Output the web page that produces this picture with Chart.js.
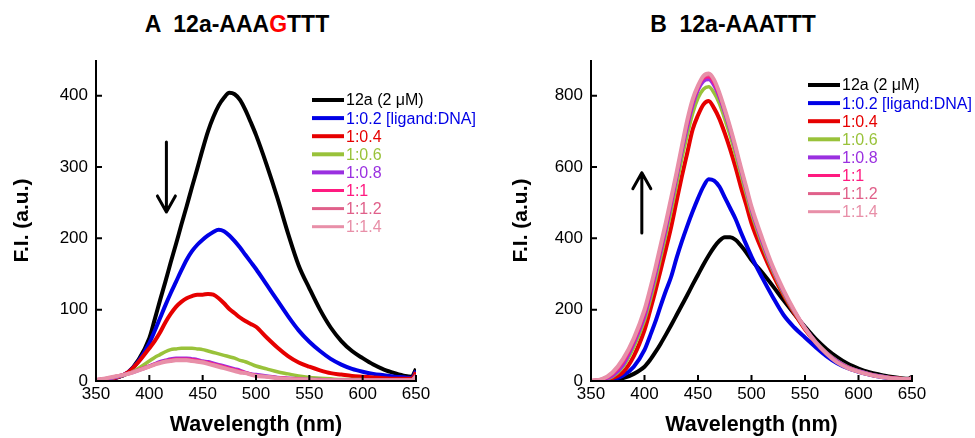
<!DOCTYPE html>
<html><head><meta charset="utf-8">
<script src="https://cdn.jsdelivr.net/npm/chart.js@4.4.0/dist/chart.umd.min.js"></script>
<style>
html,body{margin:0;padding:0;background:#fff;}
body{width:975px;height:438px;position:relative;overflow:hidden;font-family:"Liberation Sans",Arial,sans-serif;}
.title{position:absolute;top:10px;font-weight:bold;font-size:23px;text-align:center;white-space:pre;color:#000;line-height:28px;}
canvas{position:absolute;top:0;}
</style></head><body>
<div class="title" style="left:0;width:474px">A  12a-AAA<span style="color:#f00">G</span>TTT</div>
<div class="title" style="left:487px;width:492px">B  12a-AAATTT</div>
<canvas id="cA" width="487" height="438" style="left:0"></canvas>
<canvas id="cB" width="488" height="438" style="left:487px"></canvas>
<script>
// ---- data ----
const wavelengths = [350,360,370,380,390,400,405,410,415,420,425,430,435,440,445,450,455,460,465,470,475,480,485,490,495,500,510,520,530,540,550,560,570,580,590,600,610,620,630,640,646,650];
const seriesLabels = ['12a (2 \u03bcM)','1:0.2 [ligand:DNA]','1:0.4','1:0.6','1:0.8','1:1','1:1.2','1:1.4'];
const xTicks = [350,400,450,500,550,600,650];
const yTicksA = [0,100,200,300,400];
const yTicksB = [0,200,400,600,800];
const xTitle = 'Wavelength (nm)';
const yTitle = 'F.I. (a.u.)';

// Panel A: 12a-AAAGTTT
const a_12a  = [1,2,5,12,30,60,86,113,139,166,192,219,245,272,298,325,350,370,386,397,404,402,394,380,363,345,303,257,207,162,130,100,75,56,42,32,23,16,11,7,6,17];
const a_r02  = [1,2,5,12,28,53,70,88,106,123,139,155,170,182,191,198,204,209,212,210,204,196,187,177,167,157,135,113,91,71,55,42,31,23,17,13,10,8,6,5,4,14];
const a_r04  = [1,2,5,12,27,46,56,68,82,94,104,111,116,119,121,121,122,121,116,109,101,95,89,84,80,76,61,47,35,26,20,15,11,9,7,6,5,4,3,3,3,12];
const a_r06  = [1,3,6,10,18,28,33,37,41,44,45,46,46,46,45,44,42,40,38,36,34,32,29,27,24,21,17,13,10,7,5,4,3,2,2,2,1,1,1,1,1,8];
const a_r08  = [1,3,6,10,15,21,24,27,29,31,32,32,32,31,30,28,27,25,23,21,19,17,15,12,10,9,7,5,4,3,2,2,1,1,1,1,1,1,1,1,1,8];
const a_r10  = [2,4,7,11,16,21,24,26,28,30,31,31,31,30,29,27,26,24,22,20,18,16,14,12,10,8,6,5,4,3,2,2,1,1,1,1,1,1,1,1,1,7];
const a_r12  = [2,4,7,11,15,20,23,26,28,29,30,30,30,29,28,27,25,23,21,19,17,15,13,11,9,8,6,5,3,3,2,1,1,1,1,1,1,1,1,1,1,7];
const a_r14  = [2,4,7,10,15,20,23,25,27,28,29,29,29,28,27,26,24,22,20,18,16,14,12,11,9,7,6,4,3,2,2,1,1,1,1,1,1,1,1,1,1,6];

// Panel B: 12a-AAATTT
const b_12a  = [0,1,3,8,20,40,58,80,104,130,157,185,213,241,270,298,326,352,375,393,403,403,396,380,361,339,304,266,226,188,152,118,90,67,48,35,25,18,12,8,6,12];
const b_r02  = [0,1,4,15,40,87,125,165,210,253,293,345,392,435,475,512,545,566,562,545,515,485,455,418,383,349,290,235,185,150,122,95,70,50,36,26,18,12,8,5,4,8];
const b_r04  = [0,2,8,25,70,143,195,250,310,370,433,505,575,640,705,745,775,785,765,735,695,650,600,545,495,442,365,298,240,190,145,108,78,55,38,27,19,13,9,6,5,8];
const b_r06  = [0,3,12,40,95,170,222,280,345,410,478,550,625,690,750,793,818,825,808,778,735,688,635,580,525,470,382,308,245,193,148,110,80,57,40,28,20,14,9,6,5,8];
const b_r08  = [0,4,14,45,105,180,235,295,360,425,495,570,645,712,772,815,840,845,828,795,752,703,650,593,537,480,390,313,249,195,149,110,79,56,39,28,20,14,9,6,5,8];
const b_r10  = [1,4,18,52,110,188,243,303,368,433,503,577,652,720,780,822,848,852,835,800,757,708,654,597,541,484,394,316,251,196,149,109,78,54,38,27,19,13,9,6,5,8];
const b_r12  = [1,5,21,57,115,194,249,309,374,439,509,581,656,726,785,825,852,858,841,805,760,710,656,598,543,486,397,318,253,197,148,108,77,53,37,26,18,12,8,6,5,8];
const b_r14  = [1,5,24,62,120,200,255,315,380,445,515,585,660,732,790,828,855,862,845,808,762,712,658,600,545,489,400,320,255,198,148,108,77,52,36,26,18,12,8,6,5,8];

// ---- styles ----
const colors = ['#000000','#0000e6','#e60000','#99c23a','#9a30e0','#ff1a80','#e0608a','#e88fa8'];
const lineWidths = [4,4,4,3.5,3.5,3,3,4];
const legendWidths = [4,4,4,4,4,3,3,3];
const FAM = '"Liberation Sans", Arial, sans-serif';

const overlay = {
  id: 'overlay',
  afterDraw(chart, args, o) {
    const ctx = chart.ctx, ca = chart.chartArea;
    const xs = chart.scales.x, ys = chart.scales.y;
    ctx.save();
    // axes
    ctx.strokeStyle = '#000'; ctx.lineWidth = 2;
    ctx.beginPath();
    ctx.moveTo(ca.left, ca.top); ctx.lineTo(ca.left, ca.bottom + 1);
    ctx.moveTo(ca.left - 1, ca.bottom); ctx.lineTo(ca.right + 1, ca.bottom);
    ctx.stroke();
    // inward ticks
    ctx.beginPath();
    xTicks.forEach(v => { const px = xs.getPixelForValue(v); ctx.moveTo(px, ca.bottom); ctx.lineTo(px, ca.bottom - 6); });
    o.yTicks.forEach(v => { const py = ys.getPixelForValue(v); ctx.moveTo(ca.left, py); ctx.lineTo(ca.left + 6, py); });
    ctx.stroke();
    // arrow
    const ax = xs.getPixelForValue(o.arrow.x);
    const y1 = ys.getPixelForValue(o.arrow.from), y2 = ys.getPixelForValue(o.arrow.to);
    const dir = y2 > y1 ? 1 : -1;
    ctx.lineWidth = 3; ctx.lineCap = 'round'; ctx.lineJoin = 'round';
    ctx.beginPath();
    ctx.moveTo(ax, y1); ctx.lineTo(ax, y2);
    ctx.moveTo(ax - 9, y2 - dir * 16); ctx.lineTo(ax, y2); ctx.lineTo(ax + 9, y2 - dir * 16);
    ctx.stroke();
    // x-axis title
    ctx.fillStyle = '#000';
    ctx.font = 'bold 21.5px ' + FAM;
    ctx.textAlign = 'center'; ctx.textBaseline = 'alphabetic';
    ctx.fillText(xTitle, (ca.left + ca.right) / 2, 431);
    // legend
    ctx.lineCap = 'butt';
    ctx.font = '16px ' + FAM;
    ctx.textBaseline = 'middle';
    ctx.textAlign = 'left';
    chart.data.datasets.forEach((ds, i) => {
      const y = o.legendY + i * 18.1;
      ctx.strokeStyle = colors[i]; ctx.lineWidth = legendWidths[i];
      ctx.beginPath(); ctx.moveTo(o.legendX, y); ctx.lineTo(o.legendX + 32, y); ctx.stroke();
      ctx.fillStyle = colors[i];
      ctx.fillText(ds.label, o.legendX + 34, y + 1);
    });
    ctx.restore();
  }
};

function makeChart(id, series, c) {
  const datasets = seriesLabels.map((lab, i) => ({
    label: lab,
    data: wavelengths.map((w, j) => ({ x: w, y: series[i][j] })),
    borderColor: colors[i],
    backgroundColor: colors[i],
    borderWidth: lineWidths[i],
    pointRadius: 0,
    cubicInterpolationMode: 'monotone',
    fill: false,
    order: seriesLabels.length - i
  }));
  return new Chart(document.getElementById(id), {
    type: 'line',
    data: { datasets },
    options: {
      responsive: false, animation: false, devicePixelRatio: 1,
      layout: { padding: { left: 0, right: c.padRight, top: 60, bottom: 0 } },
      plugins: {
        legend: { display: false }, tooltip: { enabled: false },
        overlay: { yTicks: c.yTicks, arrow: c.arrow, legendX: c.legendX, legendY: c.legendY }
      },
      scales: {
        x: {
          type: 'linear', min: 350, max: 650,
          afterBuildTicks: s => { s.ticks = xTicks.map(v => ({ value: v })); },
          afterFit: s => { s.height = 57; },
          grid: { display: false, drawTicks: false },
          border: { display: false },
          ticks: { font: { size: 17, family: FAM }, color: '#000', padding: 3, maxRotation: 0, autoSkip: false },
          title: { display: false }
        },
        y: {
          type: 'linear', min: 0, max: c.yMax,
          afterBuildTicks: s => { s.ticks = c.yTicks.map(v => ({ value: v })); },
          afterFit: s => { s.width = c.yWidth; },
          grid: { display: false, drawTicks: false },
          border: { display: false },
          ticks: { font: { size: 17, family: FAM }, color: '#000', padding: 8, autoSkip: false },
          title: { display: true, text: yTitle, color: '#000', font: { size: 21, weight: 'bold', family: FAM }, padding: { top: c.yTitlePad, bottom: 0 } }
        }
      }
    },
    plugins: [overlay]
  });
}

makeChart('cA', [a_12a, a_r02, a_r04, a_r06, a_r08, a_r10, a_r12, a_r14], {
  padRight: 71, yWidth: 96, yMax: 450, yTicks: yTicksA, yTitlePad: 10,
  arrow: { x: 416, from: 335, to: 237 }, legendX: 312, legendY: 100
});
makeChart('cB', [b_12a, b_r02, b_r04, b_r06, b_r08, b_r10, b_r12, b_r14], {
  padRight: 63, yWidth: 104, yMax: 900, yTicks: yTicksB, yTitlePad: 22,
  arrow: { x: 397.5, from: 415, to: 584 }, legendX: 321, legendY: 85
});
</script>
</body></html>
